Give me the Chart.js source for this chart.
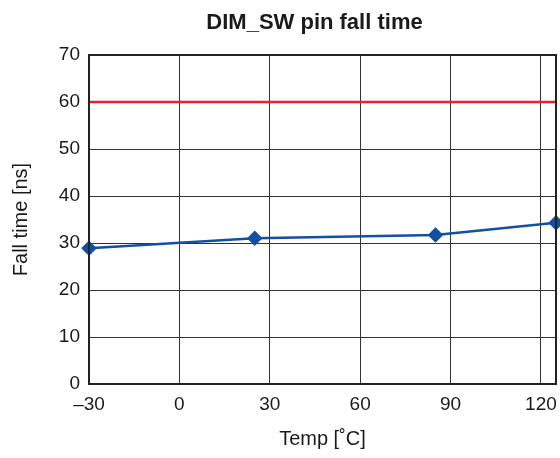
<!DOCTYPE html>
<html>
<head>
<meta charset="utf-8">
<script src="https://cdn.jsdelivr.net/npm/chart.js@4"></script>
<style>
  body { margin: 0; background: #fff; }
  #c { display: block; }
</style>
</head>
<body>
<canvas id="c" width="560" height="458"></canvas>
<script>
// values
const temps = [-30, 25, 85, 125];
const fallTimes = [28.9, 31.0, 31.7, 34.3];
const limitX = [-30, 125];
const limitY = [60, 60];
const xTicks = [-30, 0, 30, 60, 90, 120];

const fontFamily = "'Liberation Sans', Arial, sans-serif";

// title over the plot area, plus the closed frame round the plot
const framePlugin = {
    id: 'frame',
    afterDraw(chart) {
        const ctx = chart.ctx;
        const a = chart.chartArea;
        ctx.save();
        ctx.strokeStyle = '#222';
        ctx.lineWidth = 2;
        ctx.strokeRect(a.left, a.top, a.right - a.left, a.bottom - a.top);
        ctx.font = "bold 22px " + fontFamily;
        ctx.fillStyle = '#1a1a1a';
        ctx.textAlign = 'center';
        ctx.textBaseline = 'middle';
        ctx.fillText('DIM_SW pin fall time', (a.left + a.right) / 2 - 8, 23);
        ctx.restore();
    }
};

const chart = new Chart(document.getElementById('c'), {
    type: 'line',
    data: {
        datasets: [
            {
                label: 'Fall time',
                data: temps.map((t, i) => ({ x: t, y: fallTimes[i] })),
                borderColor: '#1150a2',
                backgroundColor: '#1150a2',
                borderWidth: 2.5,
                pointStyle: 'rectRot',
                pointRadius: 6,
                pointHoverRadius: 6,
                tension: 0,
                clip: false
            },
            {
                label: 'Limit',
                data: limitX.map((t, i) => ({ x: t, y: limitY[i] })),
                borderColor: '#e8212b',
                borderWidth: 2.5,
                pointRadius: 0
            }
        ]
    },
    options: {
        responsive: false,
        animation: false,
        layout: { autoPadding: false, padding: { top: 55, right: 4, left: 0, bottom: 0 } },
        plugins: {
            legend: { display: false },
            tooltip: { enabled: false }
        },
        scales: {
            x: {
                type: 'linear',
                min: -30,
                max: 125,
                afterBuildTicks: (scale) => { scale.ticks = xTicks.map(v => ({ value: v })); },
                afterFit: (scale) => {
                    scale.height = 74;
                    scale.paddingLeft = 0;
                    scale.paddingRight = 0;
                },
                grid: { color: '#333', lineWidth: 1, drawTicks: false },
                border: { color: '#111', width: 2 },
                ticks: {
                    color: '#1a1a1a',
                    font: { family: fontFamily, size: 19 },
                    padding: 9,
                    maxRotation: 0,
                    callback: (v) => v < 0 ? '\u2013' + Math.abs(v) : v
                },
                title: {
                    display: true,
                    text: 'Temp [\u02DAC]',
                    color: '#1a1a1a',
                    font: { family: fontFamily, size: 20 },
                    padding: { top: 0, bottom: 7 }
                }
            },
            y: {
                min: 0,
                max: 70,
                afterFit: (scale) => { scale.width = 89; },
                grid: { color: '#333', lineWidth: 1, drawTicks: false },
                border: { color: '#111', width: 2 },
                ticks: {
                    stepSize: 10,
                    color: '#1a1a1a',
                    font: { family: fontFamily, size: 19 },
                    padding: 9
                },
                title: {
                    display: true,
                    text: 'Fall time [ns]',
                    color: '#1a1a1a',
                    font: { family: fontFamily, size: 20 },
                    padding: { top: 9, bottom: 0 }
                }
            }
        }
    },
    plugins: [framePlugin]
});
</script>
</body>
</html>
